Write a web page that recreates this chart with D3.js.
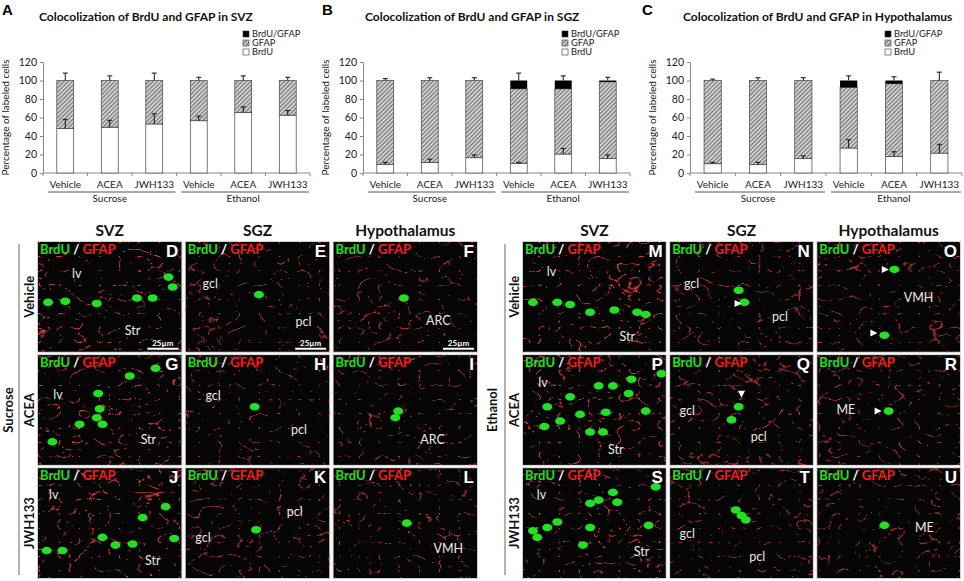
<!DOCTYPE html>
<html>
<head>
<meta charset="utf-8">
<script src="https://cdn.jsdelivr.net/npm/d3@7"></script>
<style>
  body { margin: 0; background: #fff; }
  svg { display: block; font-family: Lato, "Open Sans", sans-serif; }
</style>
</head>
<body>
<svg id="fig" width="964" height="581"></svg>
<script>
// ---- bar chart data (percent of labeled cells) ----
var categories = ["Vehicle", "ACEA", "JWH133", "Vehicle", "ACEA", "JWH133"];
var groups = ["Sucrose", "Ethanol"];
var yTicks = [0, 20, 40, 60, 80, 100, 120];
var legendNames = ["BrdU/GFAP", "GFAP", "BrdU"];

var svzBrdU = [48, 49.5, 53, 56.5, 65.5, 62.5];
var svzColoc = [0, 0, 0, 0, 0, 0];
var svzBrdUErr = [10, 7.5, 11, 5, 6, 5];
var svzTopErr = [8, 5, 8, 3.5, 5, 3.5];

var sgzBrdU = [9.5, 11.5, 16.5, 10.5, 20.5, 15.5];
var sgzColoc = [0, 0, 0, 9, 9, 1.5];
var sgzBrdUErr = [2, 3.5, 3, 1, 6, 4];
var sgzTopErr = [2, 3, 3, 8, 5, 3.5];

var hypBrdU = [10, 9, 15.5, 27, 18, 21.5];
var hypColoc = [0, 0, 0, 7.5, 3.5, 0];
var hypBrdUErr = [1.5, 2.5, 3, 9, 5, 9.5];
var hypTopErr = [1.5, 3, 3, 5, 4, 9];

// ---- image panel data ----
var regions = ["SVZ", "SGZ", "Hypothalamus"];
var treatments = ["Vehicle", "ACEA", "JWH133"];
var sucroseLetters = ["D", "E", "F", "G", "H", "I", "J", "K", "L"];
var ethanolLetters = ["M", "N", "O", "P", "Q", "R", "S", "T", "U"];

// area labels inside panels: [text, fx, fy]
var areaLabels = {
  D: [["lv", 0.27, 0.30], ["Str", 0.66, 0.82]],
  E: [["gcl", 0.17, 0.39], ["pcl", 0.82, 0.74]],
  F: [["ARC", 0.73, 0.73]],
  G: [["lv", 0.14, 0.37], ["Str", 0.77, 0.78]],
  H: [["gcl", 0.19, 0.38], ["pcl", 0.79, 0.69]],
  I: [["ARC", 0.69, 0.78]],
  J: [["lv", 0.11, 0.25], ["Str", 0.80, 0.85]],
  K: [["pcl", 0.76, 0.41], ["gcl", 0.12, 0.64]],
  L: [["VMH", 0.80, 0.74]],
  M: [["lv", 0.20, 0.28], ["Str", 0.73, 0.87]],
  N: [["gcl", 0.15, 0.39], ["pcl", 0.77, 0.69]],
  O: [["VMH", 0.71, 0.52]],
  P: [["lv", 0.14, 0.26], ["Str", 0.65, 0.87]],
  Q: [["gcl", 0.12, 0.52], ["pcl", 0.62, 0.75]],
  R: [["ME", 0.20, 0.51]],
  S: [["lv", 0.13, 0.25], ["Str", 0.83, 0.77]],
  T: [["gcl", 0.12, 0.61], ["pcl", 0.61, 0.82]],
  U: [["ME", 0.75, 0.55]]
};

// BrdU+ nuclei: [fx, fy]
var cells = {
  D: [[0.07, 0.55], [0.19, 0.54], [0.41, 0.56], [0.69, 0.51], [0.80, 0.51], [0.91, 0.32], [0.94, 0.41]],
  E: [[0.51, 0.48]],
  F: [[0.49, 0.51]],
  G: [[0.42, 0.35], [0.43, 0.49], [0.41, 0.57], [0.29, 0.63], [0.45, 0.63], [0.10, 0.79], [0.82, 0.12], [0.64, 0.19]],
  H: [[0.48, 0.47]],
  I: [[0.45, 0.51], [0.43, 0.57]],
  J: [[0.06, 0.75], [0.17, 0.75], [0.45, 0.63], [0.54, 0.70], [0.66, 0.69], [0.89, 0.35], [0.95, 0.64], [0.73, 0.45]],
  K: [[0.49, 0.56]],
  L: [[0.51, 0.50]],
  M: [[0.07, 0.55], [0.24, 0.55], [0.33, 0.57], [0.47, 0.64], [0.64, 0.62], [0.80, 0.64], [0.86, 0.66]],
  N: [[0.52, 0.55], [0.48, 0.44]],
  O: [[0.54, 0.25], [0.47, 0.85]],
  P: [[0.33, 0.38], [0.17, 0.47], [0.40, 0.54], [0.58, 0.52], [0.26, 0.60], [0.47, 0.70], [0.56, 0.70],
      [0.15, 0.65], [0.74, 0.35], [0.86, 0.51], [0.53, 0.28], [0.63, 0.28], [0.76, 0.22], [0.97, 0.17]],
  Q: [[0.48, 0.47], [0.43, 0.59]],
  R: [[0.50, 0.51]],
  S: [[0.63, 0.22], [0.53, 0.29], [0.47, 0.32], [0.66, 0.31], [0.24, 0.49], [0.17, 0.54], [0.10, 0.63],
      [0.07, 0.57], [0.42, 0.70], [0.47, 0.54], [0.88, 0.52], [0.93, 0.17]],
  T: [[0.50, 0.43], [0.46, 0.38], [0.53, 0.47]],
  U: [[0.47, 0.52]]
};

// white arrowheads: [panel, fx, fy, direction]
var arrowheads = [["N", 0.48, 0.56, "r"], ["O", 0.48, 0.25, "r"], ["O", 0.40, 0.83, "r"],
                  ["Q", 0.50, 0.36, "d"], ["R", 0.43, 0.51, "r"]];
var scaleBarPanels = ["D", "E", "F"];

var svg = d3.select("#fig");
var defs = svg.append("defs");

// hatch for the GFAP segment
var hatch = defs.append("pattern")
  .attr("id", "hatch")
  .attr("patternUnits", "userSpaceOnUse")
  .attr("width", 3).attr("height", 3)
  .attr("patternTransform", "rotate(-45)");
hatch.append("rect").attr("width", 3).attr("height", 3).attr("fill", "#e4e4e4");
hatch.append("rect").attr("width", 3).attr("height", 1.5).attr("fill", "#7a7a7a");

var drawChart = function(cfg, brdu, coloc, brduErr, topErr) {
  var g = svg.append("g");
  var y = d3.scaleLinear().domain([0, 120]).range([173, 62]);
  var x = d3.scaleBand().domain(d3.range(categories.length))
    .range([cfg.left, cfg.right]).paddingInner(0.62).paddingOuter(0.31);
  var slot = (cfg.right - cfg.left) / categories.length;

  g.append("text").attr("x", cfg.letterX).attr("y", 15)
    .attr("font-family", "Arial, Liberation Sans, sans-serif")
    .attr("font-weight", "bold").attr("font-size", 15).text(cfg.letter);
  g.append("text").attr("x", cfg.titleX).attr("y", 21)
    .attr("font-weight", "bold").attr("font-size", 12).attr("fill", "#111")
    .text(cfg.title);

  // y axis
  var yAxis = g.append("g").attr("transform", "translate(" + cfg.left + ",0)")
    .call(d3.axisLeft(y).tickValues(yTicks).tickSize(3).tickPadding(3));
  yAxis.select(".domain").attr("stroke", "#888");
  yAxis.selectAll(".tick line").attr("stroke", "#888");
  yAxis.selectAll("text").attr("font-size", 10.5).attr("fill", "#222")
    .attr("font-family", "Lato, sans-serif");

  g.append("text")
    .attr("transform", "translate(" + (cfg.left - 34) + "," + y(60) + ") rotate(-90)")
    .attr("text-anchor", "middle").attr("font-size", 10).attr("fill", "#222")
    .text("Percentage of labeled cells");

  // x axis line with slot ticks
  g.append("line").attr("x1", cfg.left).attr("x2", cfg.right)
    .attr("y1", y(0)).attr("y2", y(0)).attr("stroke", "#888");
  g.selectAll(".xt").data(d3.range(categories.length + 1)).enter().append("line")
    .attr("x1", d => cfg.left + d * slot).attr("x2", d => cfg.left + d * slot)
    .attr("y1", y(0)).attr("y2", y(0) + 3).attr("stroke", "#888");
  g.selectAll(".cat").data(categories).enter().append("text")
    .attr("x", (d, i) => x(i) + x.bandwidth() / 2).attr("y", 188)
    .attr("text-anchor", "middle").attr("font-size", 10).attr("fill", "#222")
    .text(d => d);
  groups.forEach(function(name, gi) {
    var x0 = cfg.left + gi * 3 * slot, x1 = cfg.left + (gi + 1) * 3 * slot;
    g.append("line").attr("x1", x0 + 5).attr("x2", x1 - 1)
      .attr("y1", 192).attr("y2", 192).attr("stroke", "#555");
    g.append("text").attr("x", (x0 + x1) / 2).attr("y", 201.5)
      .attr("text-anchor", "middle").attr("font-size", 10).attr("fill", "#222").text(name);
  });

  // stacked bars
  var rows = categories.map((c, i) => ({ i: i, b: brdu[i], c: coloc[i], gf: 100 - brdu[i] - coloc[i] }));
  var bars = g.selectAll(".bar").data(rows).enter().append("g");
  bars.append("rect").attr("x", d => x(d.i)).attr("width", x.bandwidth())
    .attr("y", d => y(d.b)).attr("height", d => y(0) - y(d.b))
    .attr("fill", "#fff").attr("stroke", "#444").attr("stroke-width", 0.7);
  bars.append("rect").attr("x", d => x(d.i)).attr("width", x.bandwidth())
    .attr("y", d => y(d.b + d.gf)).attr("height", d => y(d.b) - y(d.b + d.gf))
    .attr("fill", "url(#hatch)").attr("stroke", "#444").attr("stroke-width", 0.7);
  bars.filter(d => d.c > 0).append("rect").attr("x", d => x(d.i)).attr("width", x.bandwidth())
    .attr("y", d => y(100)).attr("height", d => y(100 - d.c) - y(100))
    .attr("fill", "#000");

  // error bars (upper only)
  var errs = [];
  rows.forEach(function(d) {
    errs.push({ i: d.i, v: d.b, e: brduErr[d.i] });
    errs.push({ i: d.i, v: 100, e: topErr[d.i] });
  });
  var eg = g.selectAll(".err").data(errs).enter().append("g")
    .attr("stroke", "#111").attr("stroke-width", 1);
  eg.append("line").attr("x1", d => x(d.i) + x.bandwidth() / 2).attr("x2", d => x(d.i) + x.bandwidth() / 2)
    .attr("y1", d => y(d.v)).attr("y2", d => y(d.v + d.e));
  eg.append("line").attr("x1", d => x(d.i) + x.bandwidth() / 2 - 2.5).attr("x2", d => x(d.i) + x.bandwidth() / 2 + 2.5)
    .attr("y1", d => y(d.v + d.e)).attr("y2", d => y(d.v + d.e));

  // legend
  var fills = ["#000", "url(#hatch)", "#fff"];
  var lg = g.selectAll(".lg").data(legendNames).enter().append("g")
    .attr("transform", (d, i) => "translate(" + cfg.legendX + "," + (34 + i * 9) + ")");
  lg.append("rect").attr("x", 0).attr("y", -3).attr("width", 6).attr("height", 6)
    .attr("fill", (d, i) => fills[i]).attr("stroke", "#333").attr("stroke-width", 0.6);
  lg.append("text").attr("x", 9).attr("y", 3.3).attr("font-size", 9.3).attr("fill", "#222").text(d => d);
};

drawChart({ left: 43, right: 310, letter: "A", letterX: 2, titleX: 39, legendX: 243,
  title: "Colocolization of BrdU and GFAP in SVZ" }, svzBrdU, svzColoc, svzBrdUErr, svzTopErr);
drawChart({ left: 363, right: 630, letter: "B", letterX: 322, titleX: 365, legendX: 562,
  title: "Colocolization of BrdU and GFAP in SGZ" }, sgzBrdU, sgzColoc, sgzBrdUErr, sgzTopErr);
drawChart({ left: 690, right: 962, letter: "C", letterX: 642, titleX: 683, legendX: 885,
  title: "Colocolization of BrdU and GFAP in Hypothalamus" }, hypBrdU, hypColoc, hypBrdUErr, hypTopErr);

// ---- image panels ----
var glow = defs.append("filter").attr("id", "glow").attr("x", "-50%").attr("y", "-50%")
  .attr("width", "200%").attr("height", "200%");
glow.append("feGaussianBlur").attr("stdDeviation", 0.7);

var fibreFilter = function(id, seed) {
  var f = defs.append("filter").attr("id", id).attr("x", 0).attr("y", 0).attr("width", 1).attr("height", 1);
  f.append("feTurbulence").attr("type", "turbulence").attr("baseFrequency", "0.05 0.07")
    .attr("numOctaves", 2).attr("seed", seed).attr("result", "t");
  f.append("feColorMatrix").attr("in", "t").attr("type", "matrix")
    .attr("values", "0 0 0 0 0.93  0 0 0 0 0.05  0 0 0 0 0.05  -16 0 0 0 1.15");
};

var halves = [
  { x0: 38, x1: 477, letters: sucroseLetters, group: "Sucrose", lineX: 19, rowX: 29, groupX: 8 },
  { x0: 523, x1: 960, letters: ethanolLetters, group: "Ethanol", lineX: 505, rowX: 514, groupX: 492 }
];
var rowBand = d3.scaleBand().domain(d3.range(3)).range([242, 578]).paddingInner(0.03);

halves.forEach(function(h, hi) {
  var colBand = d3.scaleBand().domain(d3.range(3)).range([h.x0, h.x1]).paddingInner(0.03);
  var hg = svg.append("g");

  hg.selectAll(".colh").data(regions).enter().append("text")
    .attr("x", (d, i) => colBand(i) + colBand.bandwidth() / 2).attr("y", 236)
    .attr("text-anchor", "middle").attr("font-weight", "bold").attr("font-size", 15.5)
    .attr("fill", "#111").text(d => d);
  hg.selectAll(".rowh").data(treatments).enter().append("text")
    .attr("transform", (d, i) => "translate(" + (h.rowX + 5) + "," + (rowBand(i) + rowBand.bandwidth() / 2) + ") rotate(-90)")
    .attr("text-anchor", "middle").attr("font-weight", "bold").attr("font-size", 13)
    .attr("fill", "#111").text(d => d);
  hg.append("line").attr("x1", h.lineX).attr("x2", h.lineX).attr("y1", 244).attr("y2", 575)
    .attr("stroke", "#999").attr("stroke-width", 1.5);
  hg.append("text")
    .attr("transform", "translate(" + (h.groupX + 5) + "," + 410 + ") rotate(-90)")
    .attr("text-anchor", "middle").attr("font-weight", "bold").attr("font-size", 13)
    .attr("fill", "#111").text(h.group);

  h.letters.forEach(function(L, k) {
    var c = k % 3, r = Math.floor(k / 3);
    var px = colBand(c), py = rowBand(r), pw = colBand.bandwidth(), ph = rowBand.bandwidth();
    var fx = d3.scaleLinear().range([px, px + pw]);
    var fy = d3.scaleLinear().range([py, py + ph]);
    var pg = hg.append("g");
    var clipId = "clip" + L;
    defs.append("clipPath").attr("id", clipId).append("rect")
      .attr("x", px).attr("y", py).attr("width", pw).attr("height", ph);
    fibreFilter("fib" + L, 11 + hi * 9 + k * 3);

    pg.append("rect").attr("x", px - 1).attr("y", py - 1).attr("width", pw + 2).attr("height", ph + 2)
      .attr("fill", "#cfcfcf");
    pg.append("rect").attr("x", px).attr("y", py).attr("width", pw).attr("height", ph).attr("fill", "#050505");
    pg.append("rect").attr("x", px).attr("y", py).attr("width", pw).attr("height", ph)
      .attr("fill", "#000").attr("filter", "url(#fib" + L + ")").attr("opacity", c === 0 ? 0.85 : 0.7);

    var cg = pg.append("g").attr("clip-path", "url(#" + clipId + ")");
    cg.selectAll("ellipse").data(cells[L] || []).enter().append("ellipse")
      .attr("cx", d => fx(d[0])).attr("cy", d => fy(d[1]))
      .attr("rx", 5).attr("ry", 3.8)
      .attr("fill", "#22e022").attr("filter", "url(#glow)");

    // channel label
    var lab = pg.append("text").attr("x", px + 2).attr("y", py + 12)
      .attr("font-weight", "bold").attr("font-size", 13);
    lab.append("tspan").attr("fill", "#1fe01f").text("BrdU");
    lab.append("tspan").attr("fill", "#fff").text(" / ");
    lab.append("tspan").attr("fill", "#ff1a1a").text("GFAP");
    pg.append("text").attr("x", px + pw - 3).attr("y", py + 15)
      .attr("text-anchor", "end").attr("font-weight", "bold").attr("font-size", 17)
      .attr("font-family", "Arial, Liberation Sans, sans-serif")
      .attr("fill", "#fff").text(L);

    pg.selectAll(".area").data(areaLabels[L] || []).enter().append("text")
      .attr("x", d => fx(d[1])).attr("y", d => fy(d[2]))
      .attr("text-anchor", "middle").attr("dominant-baseline", "middle")
      .attr("font-size", 12.5).attr("fill", "#e8e8e8").text(d => d[0]);

    pg.selectAll(".arrow").data(arrowheads.filter(a => a[0] === L)).enter().append("path")
      .attr("transform", d => "translate(" + fx(d[1]) + "," + fy(d[2]) + ")")
      .attr("d", d => d[3] === "r" ? "M-4,-3.5L3,0L-4,3.5Z" : "M-3.5,-4L3.5,-4L0,3Z")
      .attr("fill", "#fff");

    if (scaleBarPanels.indexOf(L) >= 0) {
      pg.append("line").attr("x1", px + pw - 34).attr("x2", px + pw - 3)
        .attr("y1", py + ph - 3).attr("y2", py + ph - 3).attr("stroke", "#fff").attr("stroke-width", 2);
      pg.append("text").attr("x", px + pw - 18.5).attr("y", py + ph - 6)
        .attr("text-anchor", "middle").attr("font-size", 8).attr("font-weight", "bold")
        .attr("fill", "#fff").text("25µm");
    }
  });
});
</script>
</body>
</html>
